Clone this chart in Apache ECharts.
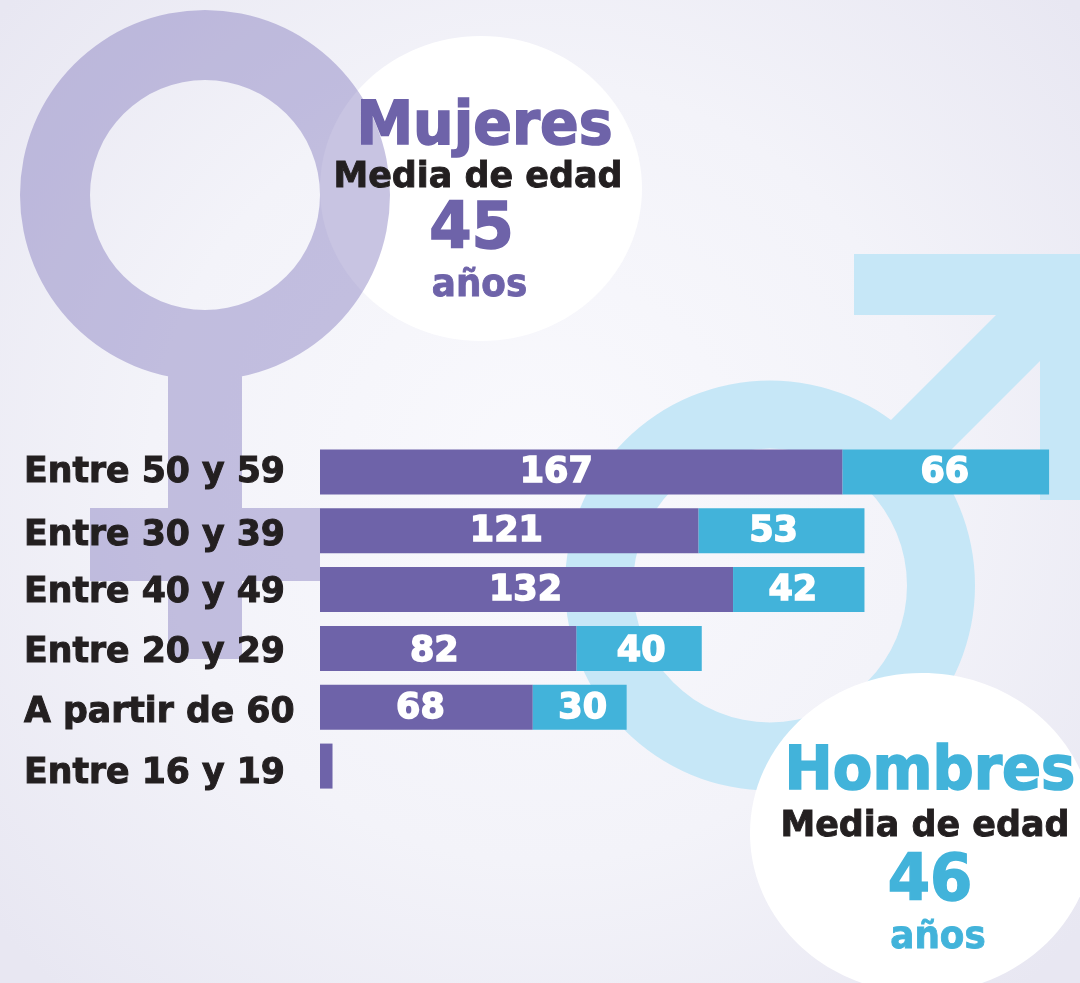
<!DOCTYPE html>
<html>
<head>
<meta charset="utf-8">
<style>
  html, body { margin: 0; padding: 0; background: #f1f1f8; }
  #chart { width: 1080px; height: 983px; }
</style>
<script src="https://cdn.jsdelivr.net/npm/echarts@6/dist/echarts.min.js"></script>
</head>
<body>
<div id="chart"></div>
<script>
// datos
var categories = ['Entre 50 y 59', 'Entre 30 y 39', 'Entre 40 y 49', 'Entre 20 y 29', 'A partir de 60', 'Entre 16 y 19'];
var mujeres = [167, 121, 132, 82, 68, 4];
var hombres = [66, 53, 42, 40, 30, null];

// las etiquetas del original no van centradas del todo
var mujeresLabelDx = [-25, -3, -1, -14, -6, 0];
var hombresLabelDx = [-1, -8, -6, 2, 3, 0];
var barLabelDy = [1, 1, 1, 3, 2, 0];
var axisLabelDy = [1, 5, 3, 5, 6, 8];

var PURPLE = '#6e63a9';
var CYAN = '#42b3da';
var BLACK = '#231f20';
var FONT = '"DejaVu Sans"';

// texto de las dos burbujas, centrado en (x, y)
function caption(text, x, y, size, color, scaleX) {
  return {
    type: 'text',
    x: x,
    y: y,
    scaleX: scaleX,
    style: {
      text: text,
      fill: color,
      stroke: color,
      lineWidth: size >= 50 ? 1.6 : 0.9,
      font: 'bold ' + size + 'px ' + FONT,
      textAlign: 'center',
      textVerticalAlign: 'middle'
    }
  };
}

// simbolos de fondo
var venus = 'M20 195 A185 185 0 1 1 390 195 A185 185 0 1 1 20 195 Z ' +
  'M90 195 A115 115 0 1 0 320 195 A115 115 0 1 0 90 195 Z ' +
  'M168 370 L242 370 L242 508 L320 508 L320 581 L242 581 L242 659 L168 659 L168 581 L90 581 L90 508 L168 508 Z';

var mars = 'M565 585.5 A205 205 0 1 1 975 585.5 A205 205 0 1 1 565 585.5 Z ' +
  'M633 585.5 A137 137 0 1 0 907 585.5 A137 137 0 1 0 633 585.5 Z ' +
  'M854 254 L1080 254 L1080 500 L1040 500 L1040 361 L930 471 L880 431 L996 315 L854 315 Z';

echarts.graphic.registerShape('venus', echarts.graphic.extendPath(venus, {}));
echarts.graphic.registerShape('mars', echarts.graphic.extendPath(mars, {}));

// un estilo rich por fila para mover cada etiqueta del eje
var axisRich = {};
axisLabelDy.forEach(function (dy, i) {
  axisRich['r' + i] = {
    color: BLACK,
    fontFamily: FONT,
    fontWeight: 'bold',
    fontSize: 34.7,
    textBorderColor: BLACK,
    textBorderWidth: 1,
    padding: [dy * 2, 0, 0, 0]
  };
});

function barSeries(name, values, labelDx, color) {
  return {
    name: name,
    type: 'bar',
    stack: 'total',
    barWidth: 45,
    data: values.map(function (v, i) {
      return { value: v, label: { offset: [labelDx[i], barLabelDy[i]] } };
    }),
    itemStyle: { color: color },
    label: {
      show: true,
      position: 'inside',
      color: '#fff',
      fontFamily: FONT,
      fontWeight: 'bold',
      fontSize: 35,
      textBorderColor: '#fff',
      textBorderWidth: 1.5,
      formatter: function (p) { return p.value >= 10 ? p.value : ''; }
    }
  };
}

var chart = echarts.init(document.getElementById('chart'));

chart.setOption({
  animation: false,
  backgroundColor: new echarts.graphic.RadialGradient(0.5, 0.48, 0.72, [
    { offset: 0, color: '#f9f9fd' },
    { offset: 0.55, color: '#f3f3f9' },
    { offset: 1, color: '#e8e7f2' }
  ]),
  grid: { left: 320, top: 442.5, width: 751, height: 353 },
  xAxis: { type: 'value', min: 0, max: 240, show: false },
  yAxis: {
    type: 'category',
    inverse: true,
    data: categories,
    axisLine: { show: false },
    axisTick: { show: false },
    axisLabel: {
      margin: 296,
      align: 'left',
      rich: axisRich,
      formatter: function (value, i) { return '{r' + i + '|' + value + '}'; }
    }
  },
  series: [
    barSeries('Mujeres', mujeres, mujeresLabelDx, PURPLE),
    barSeries('Hombres', hombres, hombresLabelDx, CYAN)
  ],
  graphic: [
    { type: 'ellipse', shape: { cx: 481, cy: 188.5, rx: 161, ry: 152.5 }, style: { fill: '#fff' }, z: -5 },
    { type: 'venus', style: { fill: 'rgba(117,107,182,0.4)' }, z: -4 },
    { type: 'mars', style: { fill: '#c6e7f7' }, z: -4 },
    { type: 'ellipse', shape: { cx: 922, cy: 833, rx: 172, ry: 160 }, style: { fill: '#fff' }, z: -3 },
    caption('Mujeres', 484.5, 128, 60, PURPLE, 0.95),
    caption('Media de edad', 478, 178, 36, BLACK, 0.97),
    caption('45', 471.5, 231, 64, PURPLE, 0.95),
    caption('años', 479.5, 286, 38, PURPLE, 0.94),
    caption('Hombres', 930, 773, 60, CYAN, 0.96),
    caption('Media de edad', 925, 827, 36, BLACK, 0.97),
    caption('46', 930, 883, 64, CYAN, 0.95),
    caption('años', 938, 938, 38, CYAN, 0.94)
  ]
});
</script>
</body>
</html>
